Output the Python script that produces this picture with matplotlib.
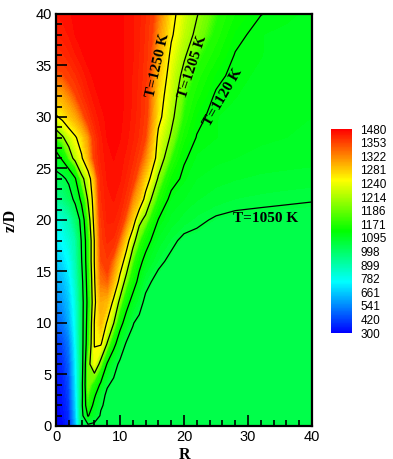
import numpy as np
import matplotlib
matplotlib.use('Agg')
import matplotlib.pyplot as plt
from matplotlib import colors
from matplotlib.cm import ScalarMappable
from matplotlib.ticker import MultipleLocator

plt.rcParams['font.family'] = 'Liberation Sans'

# legend levels (K) - shown evenly spaced like the original colour bar
levels = [300, 420, 541, 661, 782, 899, 998, 1095, 1171, 1186, 1214, 1240, 1281, 1322, 1353, 1480]
line_levels = [1050, 1120, 1205, 1250]

r_nodes = [0, 1, 2, 3, 4, 5, 6, 7, 8, 9, 10, 11, 12, 13, 14, 16, 18, 20, 22, 25, 28, 32, 36, 40]
z_nodes = [0, 1, 2, 3, 4, 6, 8, 10, 12, 14, 16, 18, 20, 22, 24, 26, 28, 30, 32, 34, 36, 38, 40]

# temperature (K) along R at each height
t_z0 = [300, 310, 360, 600, 1000, 1035, 1035, 1035, 1035, 1035, 1035, 1035, 1035, 1035, 1035, 1035, 1035, 1035, 1035, 1035, 1035, 1035, 1035, 1035]
t_z1 = [305, 320, 380, 640, 1030, 1125, 1080, 1045, 1035, 1035, 1035, 1035, 1035, 1035, 1035, 1035, 1035, 1035, 1035, 1035, 1035, 1035, 1035, 1035]
t_z2 = [310, 330, 400, 660, 1035, 1170, 1100, 1055, 1040, 1035, 1035, 1035, 1035, 1035, 1035, 1035, 1035, 1035, 1035, 1035, 1035, 1035, 1035, 1035]
t_z3 = [320, 340, 420, 680, 1030, 1180, 1130, 1070, 1040, 1035, 1035, 1035, 1035, 1035, 1035, 1035, 1035, 1035, 1035, 1035, 1035, 1035, 1035, 1035]
t_z4 = [330, 350, 440, 700, 1030, 1195, 1160, 1110, 1055, 1040, 1035, 1035, 1035, 1035, 1035, 1035, 1035, 1035, 1035, 1035, 1035, 1035, 1035, 1035]
t_z6 = [350, 380, 470, 720, 1020, 1190, 1240, 1190, 1115, 1070, 1040, 1035, 1035, 1035, 1035, 1035, 1035, 1035, 1035, 1035, 1035, 1035, 1035, 1035]
t_z8 = [400, 430, 520, 750, 1020, 1160, 1252, 1255, 1203, 1140, 1085, 1045, 1040, 1035, 1035, 1035, 1035, 1035, 1035, 1035, 1035, 1035, 1035, 1035]
t_z10 = [480, 510, 600, 780, 1020, 1150, 1252, 1290, 1245, 1207, 1140, 1095, 1052, 1040, 1035, 1035, 1035, 1035, 1035, 1035, 1035, 1035, 1035, 1035]
t_z12 = [540, 570, 650, 800, 1020, 1140, 1240, 1300, 1290, 1240, 1195, 1140, 1100, 1065, 1040, 1035, 1035, 1035, 1035, 1035, 1035, 1035, 1035, 1035]
t_z14 = [600, 630, 700, 840, 1030, 1150, 1245, 1330, 1340, 1290, 1235, 1190, 1145, 1105, 1062, 1035, 1035, 1035, 1035, 1035, 1035, 1035, 1035, 1035]
t_z16 = [660, 690, 760, 880, 1048, 1160, 1252, 1350, 1370, 1330, 1275, 1230, 1180, 1135, 1105, 1060, 1040, 1035, 1035, 1035, 1035, 1035, 1035, 1035]
t_z18 = [730, 760, 820, 900, 1060, 1160, 1252, 1360, 1400, 1390, 1330, 1270, 1220, 1180, 1140, 1090, 1060, 1040, 1038, 1035, 1035, 1035, 1035, 1035]
t_z20 = [800, 830, 880, 980, 1080, 1180, 1265, 1370, 1420, 1420, 1390, 1330, 1275, 1215, 1195, 1118, 1090, 1070, 1058, 1045, 1040, 1038, 1036, 1036]
t_z22 = [940, 960, 1010, 1070, 1135, 1210, 1270, 1390, 1430, 1440, 1420, 1380, 1320, 1285, 1235, 1165, 1105, 1095, 1080, 1070, 1062, 1058, 1055, 1052]
t_z24 = [1025, 1035, 1065, 1115, 1195, 1225, 1290, 1400, 1440, 1450, 1440, 1410, 1370, 1320, 1275, 1200, 1140, 1110, 1095, 1085, 1080, 1075, 1072, 1070]
t_z26 = [1090, 1130, 1180, 1220, 1245, 1290, 1360, 1420, 1450, 1460, 1450, 1430, 1400, 1360, 1320, 1230, 1175, 1125, 1105, 1100, 1095, 1090, 1088, 1085]
t_z28 = [1180, 1200, 1225, 1245, 1270, 1310, 1370, 1430, 1460, 1465, 1460, 1445, 1420, 1390, 1350, 1240, 1200, 1150, 1118, 1108, 1102, 1098, 1095, 1092]
t_z30 = [1245, 1260, 1280, 1300, 1330, 1370, 1420, 1450, 1465, 1470, 1465, 1450, 1430, 1400, 1365, 1262, 1215, 1170, 1130, 1108, 1105, 1100, 1097, 1095]
t_z32 = [1290, 1300, 1320, 1345, 1380, 1420, 1450, 1465, 1470, 1470, 1465, 1455, 1435, 1405, 1370, 1270, 1225, 1180, 1150, 1115, 1108, 1103, 1100, 1098]
t_z34 = [1335, 1345, 1365, 1390, 1420, 1450, 1465, 1475, 1475, 1470, 1465, 1455, 1435, 1410, 1380, 1285, 1232, 1195, 1165, 1130, 1110, 1106, 1103, 1100]
t_z36 = [1380, 1390, 1410, 1435, 1455, 1470, 1478, 1480, 1478, 1472, 1465, 1455, 1440, 1415, 1385, 1300, 1242, 1210, 1180, 1150, 1118, 1108, 1104, 1101]
t_z38 = [1415, 1425, 1440, 1460, 1470, 1478, 1480, 1480, 1478, 1472, 1465, 1455, 1440, 1420, 1390, 1315, 1255, 1222, 1198, 1165, 1130, 1108, 1105, 1102]
t_z40 = [1440, 1445, 1455, 1465, 1472, 1478, 1480, 1480, 1478, 1472, 1465, 1455, 1440, 1420, 1395, 1330, 1262, 1230, 1207, 1175, 1145, 1121, 1110, 1105]

T = np.array([t_z0, t_z1, t_z2, t_z3, t_z4, t_z6, t_z8, t_z10, t_z12, t_z14, t_z16, t_z18,
              t_z20, t_z22, t_z24, t_z26, t_z28, t_z30, t_z32, t_z34, t_z36, t_z38, t_z40], dtype=float)
R, Z = np.meshgrid(r_nodes, z_nodes)

# colour scale: legend levels are equally spaced along a blue-cyan-green-yellow-red map
idx = np.arange(len(levels))
def fwd(x):
    return np.interp(x, levels, idx)
def inv(x):
    return np.interp(x, idx, levels)
norm = colors.FuncNorm((fwd, inv), vmin=levels[0], vmax=levels[-1])
cmap = colors.LinearSegmentedColormap.from_list(
    'small_rainbow', ['#0000ff', '#00ffff', '#00ff00', '#ffff00', '#ff0000'])
fill_levels = inv(np.linspace(0, len(levels) - 1, 91))

fig = plt.figure(figsize=(3.93, 4.59), dpi=100)
ax = fig.add_axes([0.1425, 0.0719, 0.6514, 0.8976])

ax.contourf(R, Z, T, levels=fill_levels, cmap=cmap, norm=norm)
ax.contour(R, Z, T, levels=line_levels, colors='k', linewidths=0.9)

lab_font = dict(family='Liberation Serif', weight='bold', size=11)
ax.text(15.9, 35.0, 'T=1250 K', rotation=77, ha='center', va='center', rotation_mode='anchor', **lab_font)
ax.text(21.4, 34.9, 'T=1205 K', rotation=72, ha='center', va='center', rotation_mode='anchor', **lab_font)
ax.text(26.1, 31.9, 'T=1120 K', rotation=60, ha='center', va='center', rotation_mode='anchor', **lab_font)
ax.text(32.7, 20.1, 'T=1050 K', ha='center', va='center', **lab_font)

ax.set_xlim(0, 40)
ax.set_ylim(0, 40)
ax.xaxis.set_major_locator(MultipleLocator(10))
ax.xaxis.set_minor_locator(MultipleLocator(2))
ax.yaxis.set_major_locator(MultipleLocator(5))
ax.yaxis.set_minor_locator(MultipleLocator(1))
ax.tick_params(which='both', direction='in', top=False, right=False, width=1.2)
ax.tick_params(which='major', length=8, labelsize=10.5, pad=3)
ax.tick_params(which='minor', length=4)
for s in ax.spines.values():
    s.set_linewidth(1.6)

ax.set_xlabel('R', fontfamily='Liberation Serif', fontweight='bold', fontsize=11.5)
ax.set_ylabel('z/D', fontfamily='Liberation Serif', fontweight='bold', fontsize=11.5)
ax.xaxis.set_label_coords(0.5, -0.05)
ax.yaxis.set_label_coords(-0.145, 0.5)

# colour bar
cax = fig.add_axes([0.842, 0.2745, 0.0534, 0.4444])
sm = ScalarMappable(norm=norm, cmap=cmap)
cb = fig.colorbar(sm, cax=cax, ticks=levels)
cb.ax.set_yticklabels([str(v) for v in levels])
cb.outline.set_visible(False)
cb.ax.minorticks_off()
cb.ax.tick_params(length=0, pad=6, labelsize=8.5)

fig.savefig('out.png', dpi=100)
